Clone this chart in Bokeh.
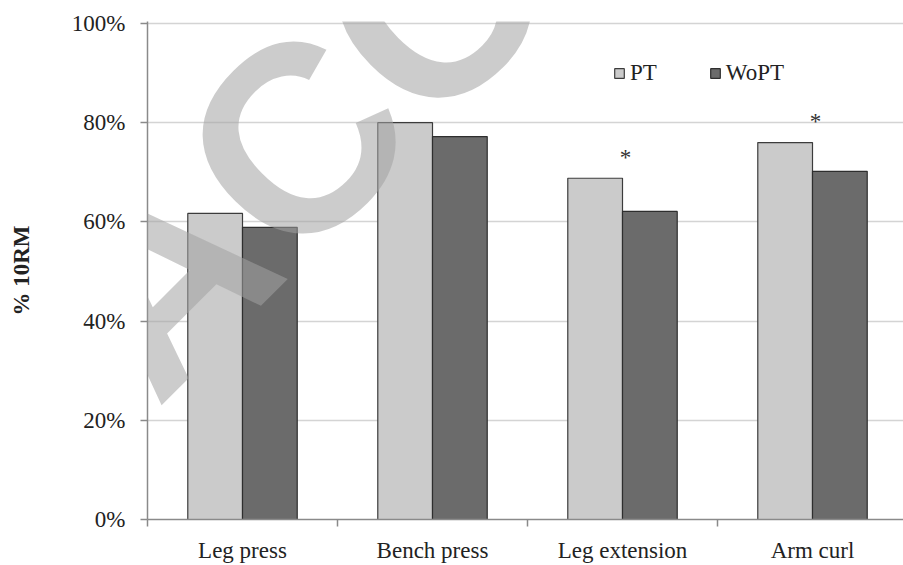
import math
from bokeh.plotting import figure
from bokeh.models import (ColumnDataSource, Range1d, FixedTicker, NumeralTickFormatter,
                          Legend, LegendItem, Label)
from bokeh.core.properties import value
from bokeh.transform import dodge
from bokeh.embed import file_html
from bokeh.resources import INLINE

# ---- data ----
categories = ["Leg press", "Bench press", "Leg extension", "Arm curl"]
pt_values = [0.617, 0.800, 0.688, 0.760]
wopt_values = [0.589, 0.772, 0.621, 0.702]
significance = ["", "", "*", "*"]
y_ticks = [0.0, 0.2, 0.4, 0.6, 0.8, 1.0]
series_names = ["PT", "WoPT"]

FONT = "Liberation Serif"
centers = [i + 0.5 for i in range(len(categories))]
src = ColumnDataSource(dict(
    x=centers, pt=pt_values, wopt=wopt_values,
    top=[max(a, b) for a, b in zip(pt_values, wopt_values)],
    sig=significance,
))

W, H = 903, 565
LEFT, TOP, BOTTOM = 147, 21, 46
p = figure(width=W, height=H, output_backend="svg", toolbar_location=None,
           x_range=Range1d(0, (W - LEFT) / 190), y_range=Range1d(0, 1.004),
           min_border_left=LEFT, min_border_right=0, min_border_top=TOP, min_border_bottom=BOTTOM)
p.outline_line_color = None
p.background_fill_color = "white"

bw = 0.288
r_pt = p.vbar(x=dodge("x", -bw / 2), top="pt", width=bw, source=src, fill_color="#cbcbcb",
              line_color="#3c3c3c", line_width=1.2)
r_wo = p.vbar(x=dodge("x", bw / 2), top="wopt", width=bw, source=src, fill_color="#6b6b6b",
              line_color="#2e2e2e", line_width=1.2)

p.text(x="x", y="top", text="sig", source=src, text_font=value(FONT), text_font_size="23px",
       text_color="#333333", text_align="center", text_baseline="alphabetic",
       x_offset=3, y_offset=-21)

# grid
p.xgrid.grid_line_color = None
p.ygrid.ticker = FixedTicker(ticks=y_ticks)
p.ygrid.grid_line_color = "#d4d4d4"
p.ygrid.grid_line_width = 1.6

# y axis
ya = p.yaxis[0]
ya.ticker = FixedTicker(ticks=y_ticks)
ya.formatter = NumeralTickFormatter(format="0%")
ya.axis_line_color = "#8a8a8a"
ya.axis_line_width = 1.5
ya.major_tick_line_color = "#8a8a8a"
ya.major_tick_line_width = 1.5
ya.major_tick_out = 7
ya.major_tick_in = 0
ya.minor_tick_line_color = None
ya.major_label_standoff = 15
ya.major_label_text_font = FONT
ya.major_label_text_font_size = "23px"
ya.major_label_text_color = "#222222"
ya.axis_label = "% 10RM"
ya.axis_label_text_font = FONT
ya.axis_label_text_font_size = "23px"
ya.axis_label_text_font_style = "bold"
ya.axis_label_text_color = "#222222"
ya.axis_label_standoff = 35

# x axis
xa = p.xaxis[0]
xa.ticker = FixedTicker(ticks=centers, minor_ticks=[float(i) for i in range(len(categories) + 1)])
xa.major_label_overrides = {c: lab for c, lab in zip(centers, categories)}
xa.axis_line_color = "#8a8a8a"
xa.axis_line_width = 1.5
xa.major_tick_line_color = None
xa.major_tick_out = 0
xa.major_tick_in = 0
xa.minor_tick_line_color = "#8a8a8a"
xa.minor_tick_line_width = 1.5
xa.minor_tick_out = 7
xa.minor_tick_in = 0
xa.major_label_standoff = 11
xa.major_label_text_font = FONT
xa.major_label_text_font_size = "23px"
xa.major_label_text_color = "#222222"

# legend
legend = Legend(items=[LegendItem(label=series_names[0], renderers=[r_pt]),
                       LegendItem(label=series_names[1], renderers=[r_wo])],
                orientation="horizontal", location=(466, 433),
                glyph_width=12, glyph_height=12, label_standoff=5, spacing=52,
                padding=0, margin=0, border_line_color=None, background_fill_alpha=0,
                label_text_font=FONT, label_text_font_size="23px", label_text_color="#222222")
p.add_layout(legend, "center")

# watermark
wm = Label(x=-56, y=175, x_units="screen", y_units="screen", text="ACCEPTED",
           angle=math.pi / 4, text_font="Liberation Sans", text_font_style="bold",
           text_font_size="266px", text_color="#a3a3a3", text_alpha=0.55,
           text_align="left", text_baseline="alphabetic")
p.add_layout(wm)

open("out.html", "w").write(file_html(p, INLINE))
